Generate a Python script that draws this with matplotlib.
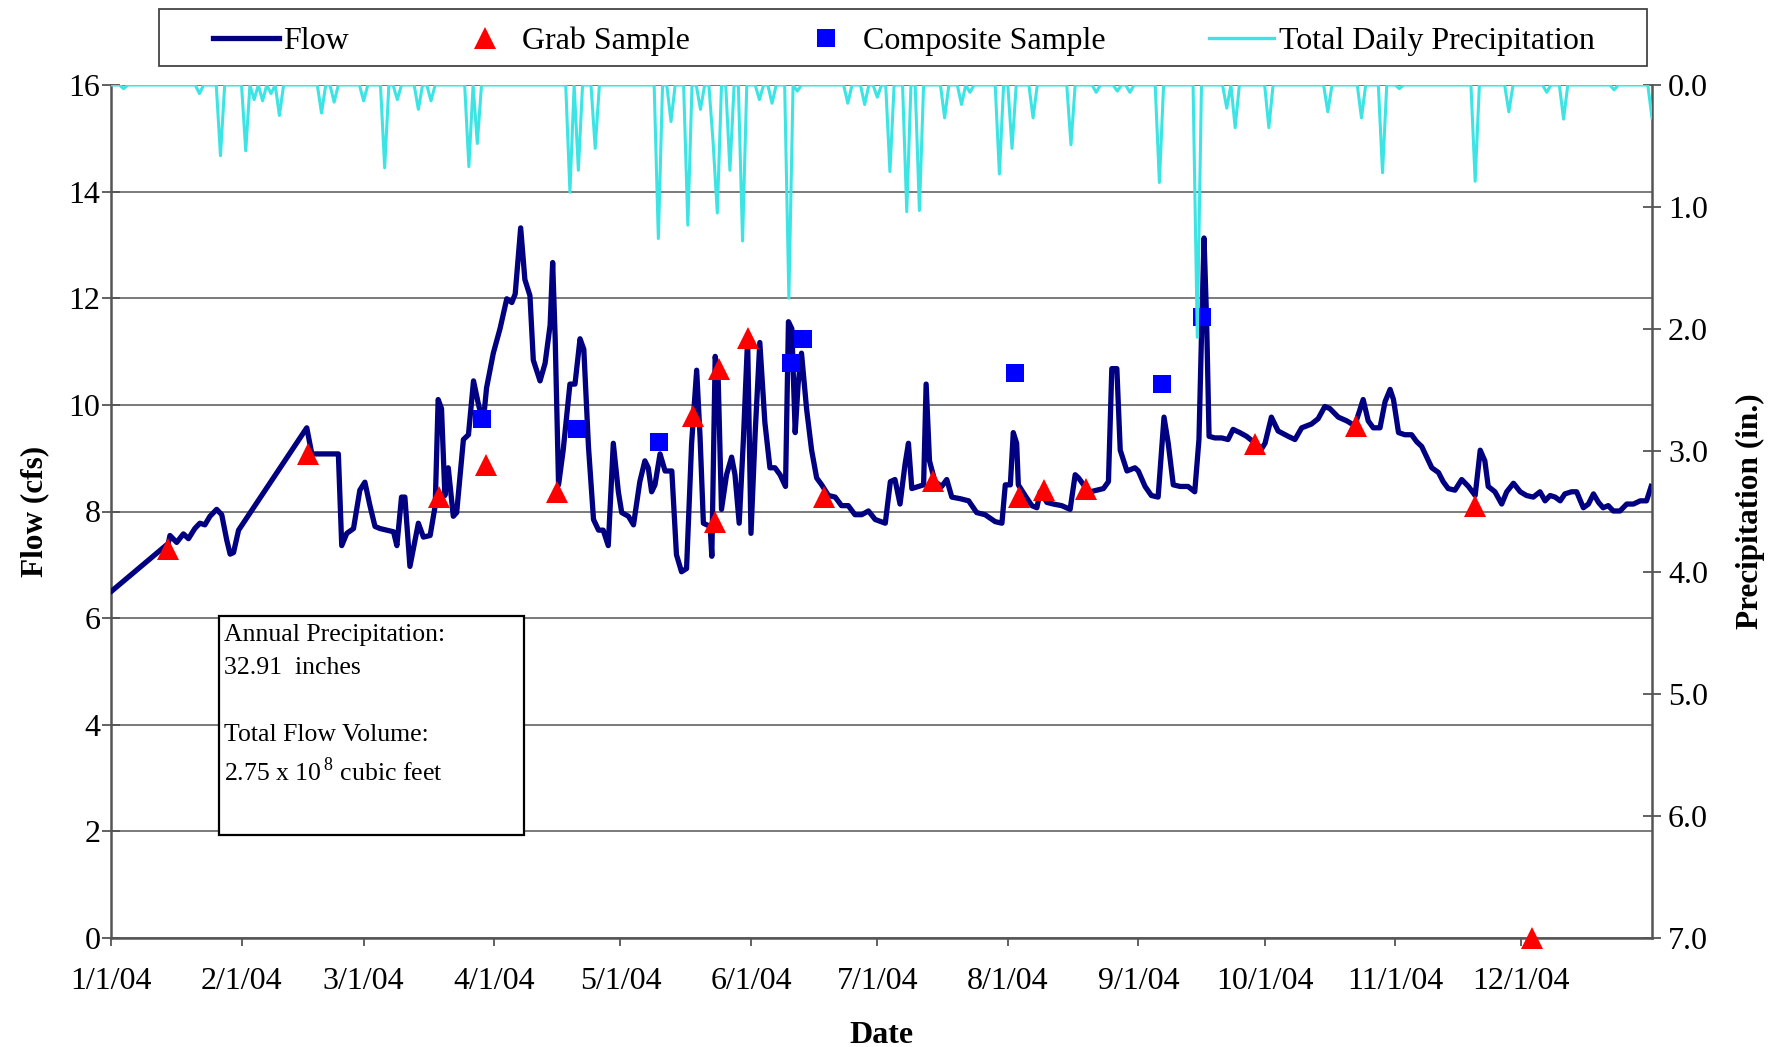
import numpy as np
import pandas as pd
import matplotlib
matplotlib.use("Agg")
import matplotlib.pyplot as plt
from matplotlib.lines import Line2D
from matplotlib.patches import Rectangle

plt.rcParams['font.family'] = ['Liberation Serif', 'DejaVu Serif']
plt.rcParams['mathtext.fontset'] = 'custom'
plt.rcParams['mathtext.rm'] = 'Liberation Serif'

# ---------------- data ----------------
START = pd.Timestamp('2004-01-01')

# Flow (cfs): day offset from 1/1/04, value
flow_days = [0.2, 13.6, 14.0, 15.6, 17.2, 18.4, 19.9, 21.1, 22.3, 23.5, 25.1, 26.3, 27.5, 28.3, 29.1, 30.3,
             46.5, 47.7, 54.0, 54.8, 56.0, 57.6, 59.1, 60.3, 61.5, 62.7, 63.9, 65.5, 67.1, 67.9, 69.0, 69.8,
             71.0, 72.2, 73.0, 74.2, 75.8, 77.0, 77.7, 78.5, 79.3, 80.1, 81.3, 82.1, 83.7, 84.9, 86.1, 87.3,
             88.4, 89.2, 90.8, 92.4, 94.0, 95.2, 96.0, 97.3, 98.3, 99.5, 100.3, 101.9, 103.1, 104.3, 104.9,
             105.5, 106.3, 107.4, 109.0, 110.2, 111.4, 112.3, 113.4, 114.6, 115.8, 116.9, 118.1, 119.3,
             120.5, 121.3, 122.9, 124.1, 125.6, 126.8, 127.6, 128.4, 129.2, 130.4, 131.6, 133.2, 134.3,
             135.5, 136.7, 137.9, 139.1, 139.9, 140.7, 142.3, 142.7, 143.5, 144.2, 145.0, 146.2, 147.4,
             148.2, 149.2, 150.2, 151.2, 152.0, 153.0, 154.1, 155.3, 156.5, 157.7, 158.9, 160.2, 160.9,
             161.7, 162.5, 163.2, 164.0, 165.2, 166.4, 167.6, 168.8, 170.4, 172.0, 173.5, 175.1, 176.7,
             178.3, 179.9, 181.5, 183.9, 185.1, 186.2, 187.4, 188.6, 189.4, 190.2, 191.8, 193.0, 193.6,
             194.4, 195.7, 197.3, 198.5, 199.7, 201.7, 203.7, 205.6, 207.6, 210.0, 211.6, 212.4, 213.6,
             214.3, 215.1, 215.5, 217.1, 218.7, 219.9, 220.7, 222.3, 223.8, 225.8, 227.8, 229.0, 229.8,
             231.0, 232.6, 234.1, 235.7, 236.9, 237.7, 238.9, 239.7, 241.3, 243.2, 244.0, 245.6, 247.1,
             248.7, 250.1, 251.1, 252.3, 253.9, 255.8, 257.4, 258.4, 259.0, 259.6, 260.2, 260.8, 262.2,
             263.8, 265.3, 266.5, 268.1, 269.7, 271.3, 273.3, 274.1, 275.6, 277.2, 279.6, 281.2, 282.8,
             285.1, 286.7, 288.3, 289.5, 291.5, 293.5, 295.4, 297.4, 298.6, 299.8, 301.4, 302.6, 303.8,
             304.6, 305.8, 307.3, 308.9, 310.1, 311.3, 312.5, 313.7, 315.3, 316.4, 317.6, 319.2, 320.8,
             322.4, 324.0, 325.2, 326.3, 327.1, 328.7, 330.3, 331.5, 333.1, 334.7, 336.2, 337.8, 339.4,
             340.6, 341.8, 343.0, 344.2, 345.3, 346.9, 348.1, 349.7, 350.9, 352.1, 353.3, 354.4, 355.6,
             356.8, 358.4, 360.0, 361.6, 363.2, 364.7, 365.8]
flow_cfs = [6.51, 7.40, 7.55, 7.42, 7.58, 7.49, 7.68, 7.78, 7.75, 7.91, 8.04, 7.94, 7.46, 7.20, 7.23, 7.65,
            9.57, 9.08, 9.08, 7.36, 7.59, 7.68, 8.40, 8.55, 8.11, 7.72, 7.68, 7.65, 7.62, 7.36, 8.27, 8.27,
            6.97, 7.46, 7.78, 7.52, 7.55, 8.11, 10.10, 9.93, 8.30, 8.82, 7.91, 7.98, 9.35, 9.44, 10.45, 10.00,
            9.67, 10.32, 10.97, 11.43, 11.99, 11.92, 12.08, 13.32, 12.35, 12.05, 10.84, 10.45, 10.78, 11.50, 12.67,
            11.24, 8.50, 9.15, 10.39, 10.39, 11.24, 11.04, 9.22, 7.85, 7.65, 7.65, 7.36, 9.28,
            8.37, 7.98, 7.91, 7.75, 8.56, 8.95, 8.82, 8.37, 8.50, 9.08, 8.76, 8.76, 7.19,
            6.87, 6.93, 9.28, 10.65, 9.41, 7.78, 7.72, 7.16, 10.91, 10.52, 8.04, 8.69, 9.02,
            8.69, 7.78, 9.35, 11.24, 7.59, 9.48, 11.17, 9.67, 8.82, 8.82, 8.69, 8.47, 11.56,
            11.43, 9.48, 10.39, 10.97, 9.93, 9.15, 8.63, 8.50, 8.30, 8.27, 8.11, 8.11, 7.94,
            7.94, 8.01, 7.85, 7.78, 8.56, 8.60, 8.14, 8.89, 9.28, 8.43, 8.47, 8.50, 10.39,
            8.95, 8.56, 8.47, 8.60, 8.27, 8.24, 8.20, 7.98, 7.94, 7.81, 7.78, 8.50, 8.50,
            9.48, 9.28, 8.50, 8.30, 8.11, 8.07, 8.37, 8.17, 8.14, 8.11, 8.04, 8.69, 8.63,
            8.50, 8.37, 8.40, 8.43, 8.56, 10.68, 10.68, 9.15, 8.76, 8.82, 8.76, 8.47, 8.30,
            8.27, 9.77, 9.28, 8.50, 8.47, 8.47, 8.37, 9.35, 11.30, 13.13, 11.63, 9.41, 9.38,
            9.38, 9.35, 9.54, 9.48, 9.41, 9.31, 9.18, 9.28, 9.77, 9.51, 9.41, 9.35, 9.57,
            9.64, 9.74, 9.97, 9.93, 9.77, 9.70, 9.61, 10.10, 9.70, 9.57, 9.57, 10.06, 10.29,
            10.10, 9.48, 9.44, 9.44, 9.31, 9.22, 9.02, 8.82, 8.73, 8.56, 8.43, 8.40, 8.60,
            8.47, 8.30, 9.15, 8.95, 8.47, 8.37, 8.14, 8.37, 8.53, 8.37, 8.30, 8.27, 8.37,
            8.20, 8.30, 8.27, 8.20, 8.33, 8.37, 8.37, 8.07, 8.14, 8.33, 8.17, 8.07, 8.11,
            8.01, 8.01, 8.14, 8.14, 8.20, 8.20, 8.47]

# Grab samples (day offset, cfs)
grab_days = [13.6, 46.9, 77.9, 89.1, 106.0, 138.3, 143.5, 144.4, 151.4, 169.4, 195.3, 215.7, 221.5,
             231.6, 271.7, 295.8, 324.0, 337.5]
grab_cfs = [7.30, 9.07, 8.27, 8.88, 8.37, 9.80, 7.80, 10.67, 11.25, 8.27, 8.57, 8.27, 8.41,
            8.42, 9.27, 9.60, 8.10, 0.0]

# Composite samples (day offset, cfs)
comp_days = [88.0, 110.6, 130.2, 161.4, 164.3, 214.6, 249.7, 259.2]
comp_cfs = [9.74, 9.54, 9.31, 10.79, 11.24, 10.60, 10.39, 11.64]

# Total daily precipitation (in.) on rainy days; all other days are 0
precip_days = [3, 21, 26, 32, 34, 36, 38, 40, 50, 53, 60, 65, 68, 73, 76, 85, 87, 109, 111, 115,
               130, 133, 137, 140, 143, 144, 147, 150, 154, 157, 161, 163, 175, 179, 182, 185, 189,
               192, 198, 202, 204, 211, 214, 219, 228, 234, 239, 242, 249, 258, 265, 267, 275, 289,
               297, 302, 306, 324, 332, 341, 345, 357, 366]
precip_in = [0.03, 0.07, 0.58, 0.54, 0.12, 0.13, 0.07, 0.25, 0.23, 0.14, 0.13, 0.68, 0.12, 0.20, 0.13,
             0.67, 0.48, 0.88, 0.70, 0.52, 1.26, 0.30, 1.15, 0.20, 0.47, 1.05, 0.70, 1.28, 0.12, 0.15,
             1.75, 0.05, 0.15, 0.16, 0.10, 0.71, 1.04, 1.03, 0.27, 0.16, 0.06, 0.73, 0.52, 0.27, 0.49,
             0.06, 0.05, 0.06, 0.80, 2.07, 0.19, 0.35, 0.35, 0.22, 0.27, 0.72, 0.03, 0.79, 0.22, 0.06,
             0.28, 0.04, 0.27]

month_labels = ['1/1/04', '2/1/04', '3/1/04', '4/1/04', '5/1/04', '6/1/04', '7/1/04', '8/1/04',
                '9/1/04', '10/1/04', '11/1/04', '12/1/04']
flow_ticks = [0, 2, 4, 6, 8, 10, 12, 14, 16]
precip_ticks = [0.0, 1.0, 2.0, 3.0, 4.0, 5.0, 6.0, 7.0]

# ---------------- helpers ----------------
def to_dates(days):
    return START + pd.to_timedelta(np.asarray(days, dtype=float), unit='D')

all_days = np.arange(0, 367)
precip_daily = np.zeros(len(all_days))
for d, v in zip(precip_days, precip_in):
    precip_daily[d] = v

W, H = 1783, 1047
fig = plt.figure(figsize=(W / 100, H / 100), dpi=100)
fig.patch.set_facecolor('white')

L, R, T, B = 111, 1652, 85, 938
ax = fig.add_axes([L / W, 1 - B / H, (R - L) / W, (B - T) / H])

NAVY = '#000080'
CYAN = '#3CE4E4'
GRID = '#707070'
SPINE = '#555555'
TICKFS = 23

ax.set_ylim(0, 16)
ax.set_yticks(flow_ticks)
ax.set_yticklabels([str(t) for t in flow_ticks])
ax.grid(axis='y', color=GRID, linewidth=1.3, zorder=0)
ax.set_axisbelow(True)

ax.plot(to_dates(flow_days), flow_cfs, color=NAVY, linewidth=3.8, solid_joinstyle='round', zorder=3)
ax.plot(to_dates(grab_days), grab_cfs, linestyle='none', marker='^', markersize=16,
        color='#FF0000', markeredgewidth=0, zorder=5, clip_on=False)
ax.plot(to_dates(comp_days), comp_cfs, linestyle='none', marker='s', markersize=13,
        color='#0000FF', markeredgewidth=0, zorder=5)

xstart = START
xend = START + pd.Timedelta(days=366)
ax.set_xlim(xstart, xend)
month_starts = pd.date_range('2004-01-01', periods=12, freq='MS')
ax.set_xticks(month_starts)
ax.set_xticklabels(month_labels)

for s in ['top', 'right']:
    ax.spines[s].set_visible(False)
for s in ['left', 'bottom']:
    ax.spines[s].set_color(SPINE)
    ax.spines[s].set_linewidth(1.8)

ax.tick_params(axis='y', direction='inout', length=13, width=1.3, color=SPINE,
               labelsize=TICKFS, pad=1)
ax.tick_params(axis='x', direction='out', length=6, width=1.3, color=SPINE,
               labelsize=TICKFS, pad=15)

ax.set_ylabel('Flow (cfs)', fontsize=22.5, fontweight='bold', labelpad=14)
ax.set_xlabel('Date', fontsize=23, fontweight='bold', labelpad=18)

# precipitation axis
ax2 = ax.twinx()
ax2.plot(to_dates(all_days), precip_daily, color=CYAN, linewidth=2.2, zorder=4)
ax2.set_ylim(7, 0)
ax2.set_yticks(precip_ticks)
ax2.set_yticklabels(['%.1f' % t for t in precip_ticks])
ax2.set_xlim(xstart, xend)
for s in ['top', 'left', 'bottom']:
    ax2.spines[s].set_visible(False)
ax2.spines['right'].set_color(SPINE)
ax2.spines['right'].set_linewidth(1.8)
ax2.tick_params(axis='y', direction='inout', length=13, width=1.3, color=SPINE,
                labelsize=TICKFS, pad=5)
ax2.set_ylabel('Precipitation (in.)', fontsize=22.5, fontweight='bold', labelpad=20)

# legend (frame drawn separately)
lx0, lx1, ly0, ly1 = 159, 1647, 9, 66
fig.patches.append(Rectangle((lx0 / W, 1 - ly1 / H), (lx1 - lx0) / W, (ly1 - ly0) / H,
                             transform=fig.transFigure, facecolor='white', edgecolor='#444444',
                             linewidth=1.3, zorder=1))
handles = [Line2D([], [], color=NAVY, linewidth=3.8),
           Line2D([], [], linestyle='none', marker='^', markersize=16, color='#FF0000', markeredgewidth=0),
           Line2D([], [], linestyle='none', marker='s', markersize=13, color='#0000FF', markeredgewidth=0),
           Line2D([], [], color=CYAN, linewidth=2.4)]
labels = ['Flow', 'Grab Sample', 'Composite Sample', 'Total Daily Precipitation']
leg = fig.legend(handles, labels, loc='center',
                 bbox_to_anchor=((lx0 + lx1) / 2 / W + 1.0 / W, 1 - ((ly0 + ly1) / 2 + 3.5) / H),
                 ncol=4, frameon=False, borderaxespad=0, borderpad=0,
                 handlelength=2.05, handletextpad=0.15, fontsize=23,
                 columnspacing=3.22)
leg.set_zorder(2)

# text box
bx0, bx1, by0, by1 = 219, 524, 616, 835
fig.patches.append(Rectangle((bx0 / W, 1 - by1 / H), (bx1 - bx0) / W, (by1 - by0) / H,
                             transform=fig.transFigure, facecolor='white', edgecolor='black',
                             linewidth=1.6, zorder=10))
txt_lines = [('Annual Precipitation:', 635), ('32.91  inches', 668),
             ('Total Flow Volume:', 735), (r'2.75 x 10$^{\,8}$ cubic feet', 772)]
for s, yy in txt_lines:
    fig.text(224 / W, 1 - yy / H, s, fontsize=18.5, ha='left', va='center', zorder=11)

fig.savefig('out.png', dpi=100, facecolor='white')
